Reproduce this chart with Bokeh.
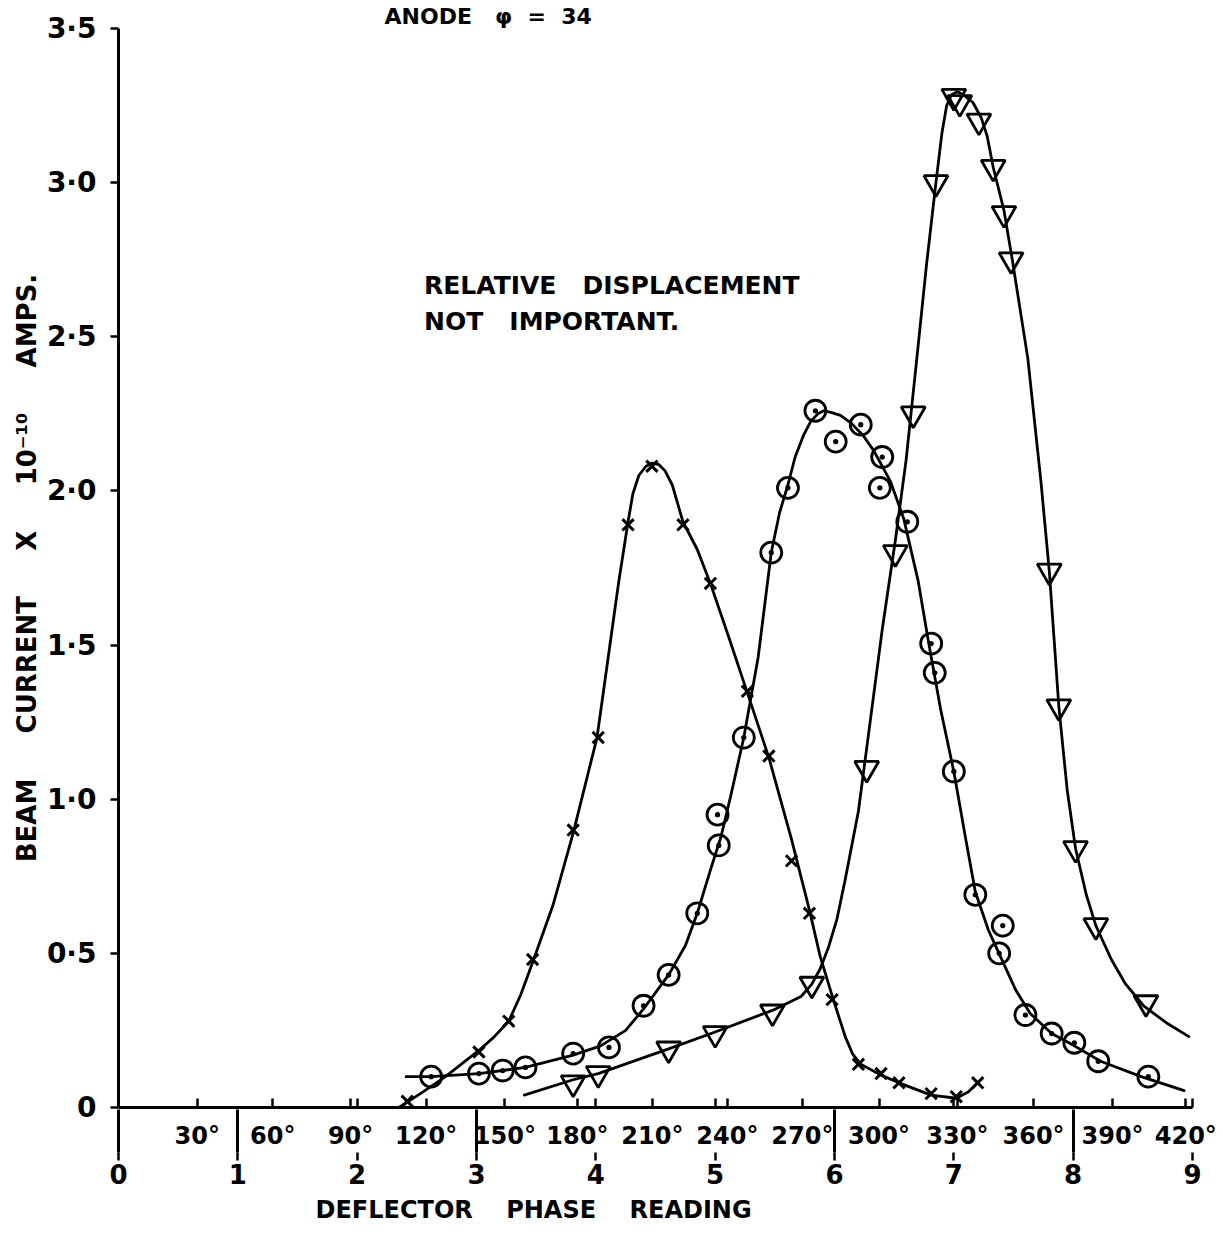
from bokeh.plotting import figure
from bokeh.models import Range1d, LinearAxis, FixedTicker, Title, Label
from bokeh.embed import file_html
from bokeh.resources import INLINE

# ---------------- data ----------------
# crosses (x) series
cross_x = [2.42, 3.02, 3.27, 3.47, 3.81, 4.02, 4.27, 4.47, 4.73, 4.96, 5.27, 5.45, 5.64, 5.79, 5.98, 6.20, 6.39, 6.54, 6.81, 7.02, 7.20]
cross_y = [0.02, 0.18, 0.28, 0.48, 0.90, 1.20, 1.89, 2.08, 1.89, 1.70, 1.35, 1.14, 0.80, 0.63, 0.35, 0.14, 0.11, 0.08, 0.045, 0.035, 0.08]
# hand-drawn curve through the crosses
cross_curve_x = [2.35, 2.53, 2.74, 3.02, 3.15, 3.27, 3.37, 3.47, 3.64, 3.81, 3.91, 4.01, 4.10, 4.19, 4.27, 4.31, 4.36, 4.42, 4.47, 4.53, 4.58, 4.64, 4.73, 4.85, 4.96, 5.11, 5.27, 5.45, 5.64, 5.79, 5.88, 5.99, 6.09, 6.15, 6.22, 6.39, 6.54, 6.81, 7.02, 7.12, 7.20]
cross_curve_y = [0.0, 0.045, 0.10, 0.185, 0.23, 0.28, 0.365, 0.47, 0.655, 0.89, 1.045, 1.20, 1.45, 1.70, 1.90, 1.99, 2.05, 2.08, 2.09, 2.085, 2.065, 2.02, 1.90, 1.81, 1.70, 1.53, 1.345, 1.135, 0.87, 0.64, 0.49, 0.35, 0.23, 0.175, 0.14, 0.105, 0.08, 0.04, 0.03, 0.05, 0.08]

# circles series
circ_x = [2.62, 3.02, 3.22, 3.41, 3.81, 4.11, 4.40, 4.61, 4.85, 5.03, 5.02, 5.24, 5.47, 5.61, 5.84, 6.01, 6.22, 6.40, 6.38, 6.61, 6.81, 6.84, 7.00, 7.18, 7.41, 7.38, 7.60, 7.82, 8.01, 8.21, 8.63]
circ_y = [0.10, 0.11, 0.12, 0.13, 0.175, 0.195, 0.33, 0.43, 0.63, 0.85, 0.95, 1.20, 1.80, 2.01, 2.26, 2.16, 2.215, 2.11, 2.01, 1.90, 1.505, 1.41, 1.09, 0.69, 0.59, 0.50, 0.30, 0.24, 0.21, 0.15, 0.10]
circ_curve_x = [2.41, 2.62, 3.02, 3.41, 3.81, 4.04, 4.25, 4.40, 4.61, 4.75, 4.85, 4.96, 5.05, 5.13, 5.24, 5.36, 5.47, 5.54, 5.61, 5.67, 5.74, 5.80, 5.86, 5.91, 5.97, 6.05, 6.14, 6.24, 6.33, 6.47, 6.58, 6.70, 6.79, 6.89, 7.00, 7.10, 7.18, 7.29, 7.39, 7.52, 7.64, 7.82, 8.01, 8.23, 8.57, 8.93]
circ_curve_y = [0.10, 0.10, 0.11, 0.13, 0.17, 0.20, 0.25, 0.32, 0.43, 0.525, 0.63, 0.77, 0.88, 1.01, 1.20, 1.46, 1.80, 1.93, 2.02, 2.11, 2.18, 2.225, 2.25, 2.26, 2.255, 2.245, 2.22, 2.18, 2.13, 2.03, 1.91, 1.71, 1.505, 1.29, 1.09, 0.87, 0.70, 0.575, 0.49, 0.38, 0.305, 0.24, 0.20, 0.15, 0.10, 0.055]

# triangles series
tri_x = [3.81, 4.02, 4.61, 5.00, 5.48, 5.81, 6.27, 6.51, 6.66, 6.85, 7.00, 7.05, 7.21, 7.33, 7.42, 7.48, 7.80, 7.88, 8.02, 8.19, 8.61]
tri_y = [0.08, 0.11, 0.19, 0.24, 0.31, 0.40, 1.10, 1.80, 2.25, 3.00, 3.28, 3.26, 3.20, 3.05, 2.90, 2.75, 1.74, 1.30, 0.84, 0.59, 0.34]
tri_curve_x = [3.40, 3.81, 4.02, 4.61, 5.00, 5.48, 5.72, 5.81, 5.88, 5.95, 6.02, 6.09, 6.20, 6.30, 6.40, 6.51, 6.60, 6.69, 6.77, 6.85, 6.90, 6.94, 6.98, 7.03, 7.08, 7.16, 7.23, 7.28, 7.33, 7.42, 7.49, 7.62, 7.73, 7.80, 7.88, 7.95, 8.02, 8.11, 8.19, 8.32, 8.44, 8.59, 8.78, 8.97]
tri_curve_y = [0.04, 0.09, 0.11, 0.19, 0.245, 0.315, 0.36, 0.40, 0.45, 0.52, 0.61, 0.74, 0.96, 1.255, 1.55, 1.84, 2.10, 2.43, 2.73, 3.00, 3.16, 3.25, 3.285, 3.295, 3.285, 3.26, 3.21, 3.15, 3.05, 2.91, 2.75, 2.43, 2.03, 1.74, 1.30, 1.03, 0.84, 0.69, 0.59, 0.48, 0.40, 0.33, 0.275, 0.23]

# axes
y_ticks = [0.0, 0.5, 1.0, 1.5, 2.0, 2.5, 3.0, 3.5]
y_tick_labels = ["0", "0·5", "1·0", "1·5", "2·0", "2·5", "3·0", "3·5"]
reading_ticks = [0, 1, 2, 3, 4, 5, 6, 7, 8, 9]
reading_long = [0, 1, 3, 6, 8]
reading_short = [2, 4, 5, 7, 9]
# phase-degree calibration marks, in deflector-reading units
deg_pos = [0.66, 1.293, 1.945, 2.578, 3.238, 3.845, 4.474, 5.102, 5.731, 6.373, 7.03, 7.668, 8.33, 8.944]
deg_labels = ["30°", "60°", "90°", "120°", "150°", "180°", "210°", "240°", "270°", "300°", "330°", "360°", "390°", "420°"]

FONT = "DejaVu Sans"
NB = "\u00a0"

p = figure(frame_width=1074, frame_height=1079,
           x_range=Range1d(0, 9), y_range=Range1d(0, 3.5),
           x_axis_location=None, y_axis_location=None,
           toolbar_location=None, output_backend="svg",
           min_border_left=118, min_border_right=29, min_border_top=28, min_border_bottom=120,
           background_fill_color="white", border_fill_color="white", outline_line_color=None)
for g in p.grid:
    g.visible = False

# y axis
yaxis = LinearAxis(ticker=FixedTicker(ticks=y_ticks, minor_ticks=[]),
                   major_label_overrides={t: l for t, l in zip(y_ticks, y_tick_labels)},
                   axis_label=f"BEAM{NB*5}CURRENT{NB*5}X{NB*5}10⁻¹⁰{NB*5}AMPS.")
yaxis.axis_line_width = 3
yaxis.axis_line_color = "black"
yaxis.major_tick_in = 0
yaxis.major_tick_out = 8
yaxis.major_tick_line_width = 2.5
yaxis.major_label_standoff = 14
yaxis.major_label_text_font = FONT
yaxis.major_label_text_font_size = "28px"
yaxis.major_label_text_font_style = "bold"
yaxis.major_label_text_color = "black"
yaxis.axis_label_standoff = 2
yaxis.axis_label_text_font = FONT
yaxis.axis_label_text_font_size = "26px"
yaxis.axis_label_text_font_style = "bold"
yaxis.axis_label_text_color = "black"
p.add_layout(yaxis, "left")

# degree axis (nearest the plot): small upward ticks
deg_overrides = {t: l for t, l in zip(deg_pos, deg_labels)}
for t in reading_short:
    deg_overrides[float(t)] = ""
deg_axis = LinearAxis(ticker=FixedTicker(ticks=deg_pos + [float(t) for t in reading_short], minor_ticks=[]),
                      major_label_overrides=deg_overrides)
deg_axis.axis_line_width = 3
deg_axis.axis_line_color = "black"
deg_axis.major_tick_in = 9
deg_axis.major_tick_out = 0
deg_axis.major_tick_line_width = 2.5
deg_axis.minor_tick_in = 0
deg_axis.minor_tick_out = 0
deg_axis.major_label_standoff = 14
deg_axis.major_label_text_font = FONT
deg_axis.major_label_text_font_size = "24px"
deg_axis.major_label_text_font_style = "bold"
deg_axis.major_label_text_color = "black"
p.add_layout(deg_axis, "below")

# reading axis: long dividers reach up to the axis line, short marks below the degree labels
read_axis = LinearAxis(ticker=FixedTicker(ticks=reading_ticks, minor_ticks=reading_long),
                       major_label_overrides={t: str(t) for t in reading_ticks})
read_axis.axis_line_color = None
read_axis.major_tick_line_color = "black"
read_axis.major_tick_line_width = 2.5
read_axis.major_tick_in = 0
read_axis.major_tick_out = 8
read_axis.minor_tick_in = 43
read_axis.minor_tick_out = 0
read_axis.minor_tick_line_width = 3
read_axis.minor_tick_line_color = "black"
read_axis.major_label_standoff = 3
read_axis.major_label_text_font = FONT
read_axis.major_label_text_font_size = "26px"
read_axis.major_label_text_font_style = "bold"
read_axis.major_label_text_color = "black"
p.add_layout(read_axis, "below")

p.add_layout(Title(text=f"DEFLECTOR{NB*4}PHASE{NB*4}READING", align="left", offset=197,
                   vertical_align="top", text_font=FONT, text_font_size="24px", text_font_style="bold",
                   text_color="black", standoff=18), "below")

p.add_layout(Title(text=f"ANODE{NB*3}φ{NB*2}={NB*2}34", align="left", offset=266,
                   vertical_align="bottom", text_font=FONT, text_font_size="22px", text_font_style="bold",
                   text_color="black", standoff=0), "above")

# curves
for cx, cy in [(cross_curve_x, cross_curve_y), (circ_curve_x, circ_curve_y), (tri_curve_x, tri_curve_y)]:
    p.line(cx, cy, line_color="black", line_width=2.8, line_join="round", line_cap="round")

# markers
p.scatter(cross_x, cross_y, marker="x", size=16, line_color="black", line_width=3)
p.scatter(circ_x, circ_y, marker="circle_dot", size=21, line_color="black", line_width=2.8,
          fill_color=None)
p.scatter(tri_x, tri_y, marker="inverted_triangle", size=24, line_color="black", line_width=2.8,
          fill_color=None)

# annotation
p.add_layout(Label(x=2.56, y=2.712, text=f"RELATIVE{NB*3}DISPLACEMENT", text_baseline="top",
                   text_font=FONT, text_font_size="25px", text_font_style="bold", text_color="black"))
p.add_layout(Label(x=2.56, y=2.598, text=f"NOT{NB*3}IMPORTANT.", text_baseline="top",
                   text_font=FONT, text_font_size="25px", text_font_style="bold", text_color="black"))

open("out.html", "w").write(file_html(p, INLINE))
